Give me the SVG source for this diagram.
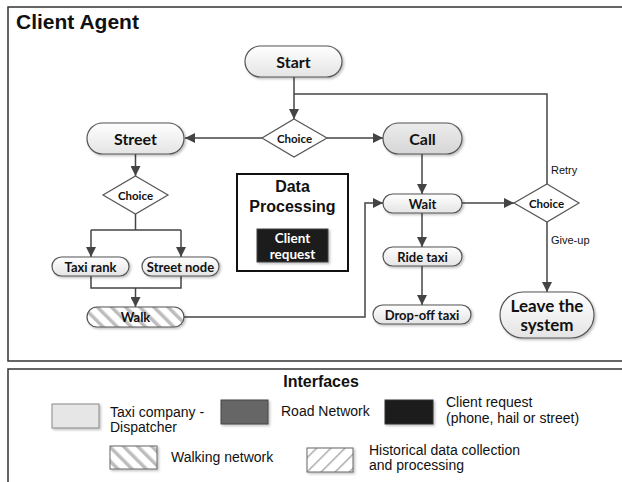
<svg xmlns="http://www.w3.org/2000/svg" width="622" height="482" viewBox="0 0 622 482">
<style>
.frame{fill:#fff;stroke:#333;stroke-width:1.5}
.pill{fill:url(#gPill);stroke:#555;stroke-width:1.2}
.dia{fill:#fff;stroke:#555;stroke-width:1.2}
.nt{font-family:Lato,"Open Sans",sans-serif;font-weight:bold;fill:#111;text-anchor:middle;dominant-baseline:central}
.conn{fill:none;stroke:#444;stroke-width:1.5}
.arr{marker-end:url(#ah)}
.lt{font-family:"Liberation Sans",Arial,sans-serif;font-size:14px;fill:#111}
.lbl{font-family:"Liberation Sans",Arial,sans-serif;font-size:11px;fill:#111}
</style>
<defs>
<linearGradient id="gPill" x1="0" y1="0" x2="0" y2="1"><stop offset="0" stop-color="#ffffff"/><stop offset="1" stop-color="#e4e4e4"/></linearGradient>
<linearGradient id="gCall" x1="0" y1="0" x2="0" y2="1"><stop offset="0" stop-color="#ececec"/><stop offset="1" stop-color="#d6d6d6"/></linearGradient>
<pattern id="hatchB" width="10" height="10" patternUnits="userSpaceOnUse" patternTransform="rotate(-45)"><rect width="10" height="10" fill="#fff"/><rect x="0" y="0" width="3.5" height="10" fill="#bdbdbd"/></pattern>
<pattern id="hatchF" width="10" height="10" patternUnits="userSpaceOnUse" patternTransform="rotate(45)"><rect width="10" height="10" fill="#fff"/><rect x="0" y="0" width="1.5" height="10" fill="#aaa"/></pattern>
<marker id="ah" markerUnits="userSpaceOnUse" markerWidth="10" markerHeight="10" viewBox="0 0 10 10" refX="10" refY="5" orient="auto"><path d="M0,0 L10,5 L0,10 z" fill="#444"/></marker>
<filter id="sh" x="-10%" y="-10%" width="130%" height="140%"><feDropShadow dx="1.5" dy="1.5" stdDeviation="1" flood-color="#000" flood-opacity="0.25"/></filter>
</defs>

<rect class="frame" x="8" y="7" width="616" height="354"/>
<text x="16" y="29" font-family="Liberation Sans,Arial,sans-serif" font-weight="bold" font-size="21" fill="#111">Client Agent</text>

<g id="connectors">
<path class="conn arr" d="M294,77 V119"/>
<path class="conn" d="M294,94 H547 V184"/>
<path class="conn arr" d="M262,138 H185"/>
<path class="conn arr" d="M327,138 H383"/>
<path class="conn arr" d="M135.5,154 V176"/>
<path class="conn" d="M135.5,214 V230 M91,230 H181"/>
<path class="conn arr" d="M91,230 V257"/>
<path class="conn arr" d="M181,230 V257"/>
<path class="conn" d="M91,276 V288 H181 V276"/>
<path class="conn arr" d="M135.5,288 V307"/>
<path class="conn arr" d="M184,317 H365 V203 H383"/>
<path class="conn arr" d="M422,154 V194"/>
<path class="conn arr" d="M462,203 H514"/>
<path class="conn arr" d="M547,222 V292"/>
<path class="conn arr" d="M422,213 V247"/>
<path class="conn arr" d="M422,266 V305"/>
<text class="lbl" x="551" y="174">Retry</text>
<text class="lbl" x="551" y="244">Give-up</text>
</g>

<g id="start"><rect class="pill" x="245" y="46" width="97" height="31" rx="15.5" filter="url(#sh)"/><text class="nt" x="293.5" y="61.5" font-size="16">Start</text></g>
<g id="choice1"><polygon class="dia" points="294,119 327,138 294,157 262,138"/><text class="nt" x="294.5" y="138.5" font-size="11.5">Choice</text></g>
<g id="street"><rect class="pill" x="87" y="123" width="97" height="31" rx="15.5" filter="url(#sh)"/><text class="nt" x="135.5" y="138.5" font-size="16">Street</text></g>
<g id="call"><rect x="383" y="123" width="79" height="31" rx="15.5" fill="url(#gCall)" stroke="#555" stroke-width="1.2" filter="url(#sh)"/><text class="nt" x="422.5" y="138.5" font-size="16">Call</text></g>
<g id="choice2"><polygon class="dia" points="135.5,176 168,195 135.5,214 103,195"/><text class="nt" x="135.5" y="195.5" font-size="11.5">Choice</text></g>
<g id="taxirank"><rect class="pill" x="52" y="257" width="77" height="19" rx="9.5" filter="url(#sh)"/><text class="nt" x="90.5" y="266.5" font-size="13">Taxi rank</text></g>
<g id="streetnode"><rect class="pill" x="142" y="257" width="77" height="19" rx="9.5" filter="url(#sh)"/><text class="nt" x="180.5" y="266.5" font-size="13">Street node</text></g>
<g id="walk"><rect x="87" y="307" width="97" height="20" rx="10" fill="url(#hatchB)" stroke="#555" stroke-width="1.2" filter="url(#sh)"/><text class="nt" x="135.5" y="317" font-size="13">Walk</text></g>
<g id="dataprocessing">
<rect x="237" y="174" width="111" height="97" fill="#fff" stroke="#111" stroke-width="2"/>
<text x="292.5" y="192" font-family="Liberation Sans,Arial,sans-serif" font-weight="bold" font-size="16" text-anchor="middle" fill="#111">Data</text>
<text x="292.5" y="212" font-family="Liberation Sans,Arial,sans-serif" font-weight="bold" font-size="16" text-anchor="middle" fill="#111">Processing</text>
<rect x="257" y="229" width="71" height="33" fill="#1a1a1a" stroke="#444" filter="url(#sh)"/>
<text class="nt" x="292.5" y="237.5" font-size="13.5" style="fill:#fff">Client</text>
<text class="nt" x="292.5" y="253.5" font-size="13.5" style="fill:#fff">request</text>
</g>
<g id="wait"><rect class="pill" x="383" y="194" width="79" height="19" rx="9.5" filter="url(#sh)"/><text class="nt" x="422.5" y="203.5" font-size="13">Wait</text></g>
<g id="choice3"><polygon class="dia" points="547,184 579,203 547,222 514,203"/><text class="nt" x="546.5" y="203.5" font-size="11.5">Choice</text></g>
<g id="ridetaxi"><rect class="pill" x="383" y="247" width="79" height="19" rx="9.5" filter="url(#sh)"/><text class="nt" x="422.5" y="256.5" font-size="13">Ride taxi</text></g>
<g id="dropoff"><rect class="pill" x="373" y="305" width="98" height="19" rx="9.5" filter="url(#sh)"/><text class="nt" x="422" y="314.5" font-size="13">Drop-off taxi</text></g>
<g id="leave"><rect class="pill" x="500" y="292" width="94" height="46" rx="23" filter="url(#sh)"/><text class="nt" x="547" y="305" font-size="17">Leave the</text><text class="nt" x="547" y="324" font-size="17">system</text></g>

<g id="legend">
<rect class="frame" x="8" y="369" width="616" height="120"/>
<text x="321" y="387" font-family="Liberation Sans,Arial,sans-serif" font-weight="bold" font-size="16" text-anchor="middle" fill="#111">Interfaces</text>
<rect x="52" y="404" width="47" height="24" fill="#e6e6e6" stroke="#888" filter="url(#sh)"/>
<text class="lt" x="110" y="417">Taxi company -</text>
<text class="lt" x="110" y="432">Dispatcher</text>
<rect x="221" y="400" width="47" height="24" fill="#666" stroke="#444" filter="url(#sh)"/>
<text class="lt" x="281" y="416">Road Network</text>
<rect x="385" y="400" width="48" height="24" fill="#1a1a1a" stroke="#333" filter="url(#sh)"/>
<text class="lt" x="446" y="407">Client request</text>
<text class="lt" x="446" y="423">(phone, hail or street)</text>
<rect x="110" y="446" width="47" height="23" fill="url(#hatchB)" stroke="#666" filter="url(#sh)"/>
<text class="lt" x="171" y="462">Walking network</text>
<rect x="307" y="448" width="46" height="24" fill="url(#hatchF)" stroke="#666" filter="url(#sh)"/>
<text class="lt" x="369" y="455">Historical data collection</text>
<text class="lt" x="369" y="470">and processing</text>
</g>
</svg>
